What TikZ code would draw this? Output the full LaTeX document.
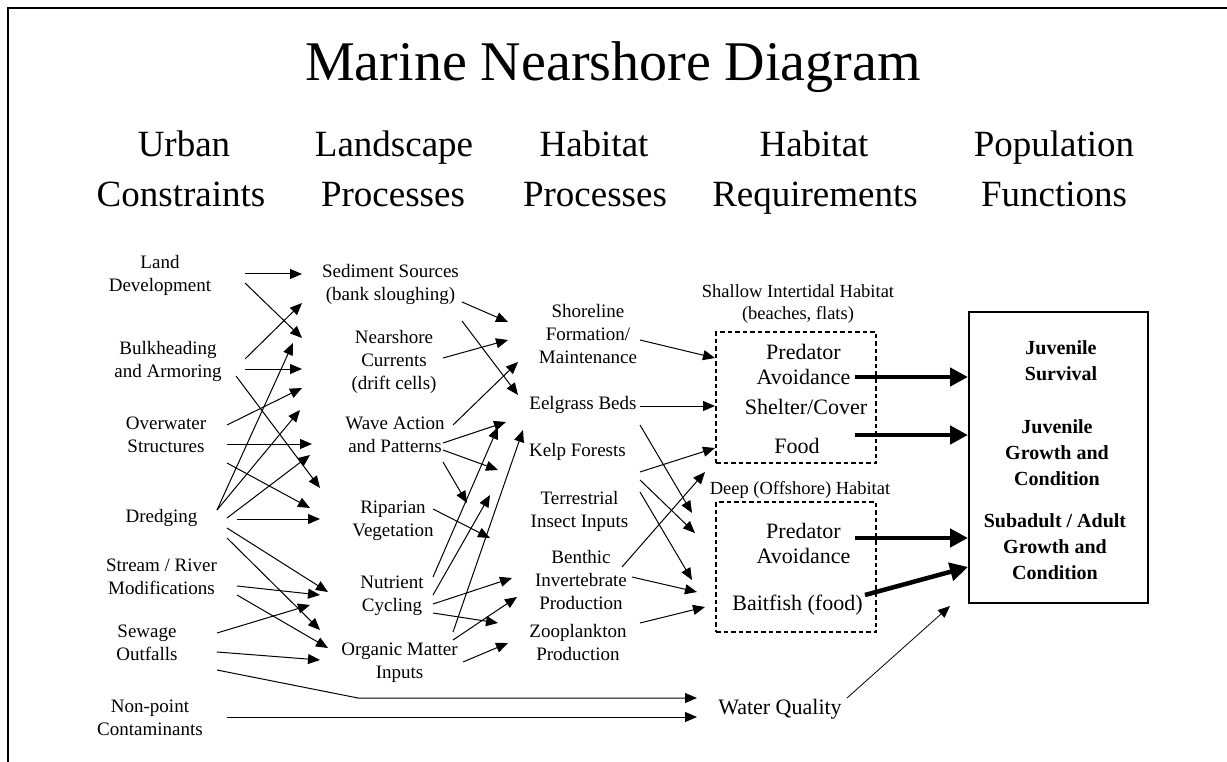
\documentclass[tikz,border=0pt]{standalone}
\usepackage{fontspec}
\setmainfont{Liberation Serif}
\usetikzlibrary{arrows.meta}
\begin{document}
\begin{tikzpicture}[x=1pt,y=-1pt,
  lbl/.style={inner sep=0pt, align=center, font=\fontsize{19}{23}\selectfont},
  req/.style={inner sep=0pt, align=center, font=\fontsize{22}{25}\selectfont},
  sublbl/.style={inner sep=0pt, align=center, font=\fontsize{18.5}{22}\selectfont},
  poplbl/.style={inner sep=0pt, align=center, font=\fontsize{20}{26}\selectfont\bfseries},
  hdr/.style={inner sep=0pt, anchor=base, font=\fontsize{37}{44}\selectfont},
  arr/.style={line width=1pt, -{Triangle[length=12pt,width=10pt]}},
  bigarr/.style={line width=4.5pt, -{Triangle[length=18pt,width=18pt]}},
  dbox/.style={draw, line width=1.6pt, dash pattern=on 4.5pt off 3pt, inner sep=0pt},
  sbox/.style={draw, line width=1.3pt, inner sep=0pt}]
\useasboundingbox (0,0) rectangle (1227,762);
% frame
\draw[line width=2.5pt] (8,762) -- (8,8) -- (1227,8);
% title and headers
\node[anchor=base, inner sep=0pt, font=\fontsize{56}{60}\selectfont] (title) at (613,81) {Marine Nearshore Diagram};
\node[hdr] (h1a) at (184,157) {Urban};
\node[hdr] (h1b) at (181,207) {Constraints};
\node[hdr] (h2a) at (394,157) {Landscape};
\node[hdr] (h2b) at (393,207) {Processes};
\node[hdr] (h3a) at (594,157) {Habitat};
\node[hdr] (h3b) at (595,207) {Processes};
\node[hdr] (h4a) at (814,157) {Habitat};
\node[hdr] (h4b) at (815,207) {Requirements};
\node[hdr] (h5a) at (1054,157) {Population};
\node[hdr] (h5b) at (1054,207) {Functions};
% urban constraints
\node[lbl] (land) at (160,275) {Land\\Development};
\node[lbl] (bulk) at (168,361) {Bulkheading\\and Armoring};
\node[lbl] (over) at (166,435) {Overwater\\Structures};
\node[lbl] (dredg) at (161.5,518) {Dredging};
\node[lbl] (stream) at (161.5,577) {Stream / River\\Modifications};
\node[lbl] (sewage) at (147,642.5) {Sewage\\Outfalls};
\node[lbl] (nonpt) at (150,718) {Non-point\\Contaminants};
% landscape processes
\node[lbl] (sed) at (390.5,284.5) {Sediment Sources\\(bank sloughing)};
\node[lbl] (near) at (394,362) {Nearshore\\Currents\\(drift cells)};
\node[lbl] (wave) at (395,435) {Wave Action\\and Patterns};
\node[lbl] (ripar) at (393,520.5) {Riparian\\Vegetation};
\node[lbl] (nutr) at (392,596) {Nutrient\\Cycling};
\node[lbl] (organic) at (399.5,662.5) {Organic Matter\\Inputs};
% habitat processes
\node[lbl] (shore) at (588,334) {Shoreline\\Formation/\\Maintenance};
\node[lbl] (eel) at (583,405) {Eelgrass Beds};
\node[lbl] (kelp) at (577.5,452) {Kelp Forests};
\node[lbl] (terr) at (579.5,511.5) {Terrestrial\\Insect Inputs};
\node[lbl] (benth) at (581,579.5) {Benthic\\Invertebrate\\Production};
\node[lbl] (zoo) at (578,642.5) {Zooplankton\\Production};
% habitat requirements
\node[sublbl] (shallow) at (798,304) {Shallow Intertidal Habitat\\(beaches, flats)};
\node[dbox, minimum width=160pt, minimum height=131pt] (box1) at (796,397.5) {};
\node[req] (pa1) at (803.5,364.5) {Predator\\Avoidance};
\node[req] (shelter) at (806,407) {Shelter/Cover};
\node[req] (food) at (797,446) {Food};
\node[sublbl] (deep) at (800,490) {Deep (Offshore) Habitat};
\node[dbox, minimum width=160pt, minimum height=130pt] (box2) at (796,567) {};
\node[req] (pa2) at (803.5,543.5) {Predator\\Avoidance};
\node[req] (bait) at (797.5,605) {Baitfish (food)};
\node[req] (wq) at (780,709) {Water Quality};
% population functions
\node[sbox, minimum width=179pt, minimum height=291pt] (popbox) at (1058.5,457.5) {};
\node[poplbl] (jsurv) at (1061,361) {Juvenile\\Survival};
\node[poplbl] (jgrow) at (1057,453) {Juvenile\\Growth and\\Condition};
\node[poplbl] (sgrow) at (1055,547) {Subadult / Adult\\Growth and\\Condition};
% urban -> landscape
\draw[arr] (245,274) -- (302,274);
\draw[arr] (245,283) -- (302,338);
\draw[arr] (245,359) -- (302,303);
\draw[arr] (245,369) -- (302,369);
\draw[arr] (236,376) -- (320,488);
\draw[arr] (227,425) -- (302,388);
\draw[arr] (227,444) -- (312,444);
\draw[arr] (227,463) -- (310,508);
\draw[arr] (217,510) -- (293,343);
\draw[arr] (217,510) -- (300,410);
\draw[arr] (227,518) -- (310,455);
\draw[arr] (237,519) -- (320,519);
\draw[arr] (227,528) -- (328,592);
\draw[arr] (227,538) -- (320,630);
\draw[arr] (237,586) -- (320,595);
\draw[arr] (237,595) -- (328,648);
\draw[arr] (217,633) -- (310,605);
\draw[arr] (217,652) -- (320,660);
\draw[arr] (217,670) -- (358,698) -- (697,698);
\draw[arr] (227,717) -- (697,717);
% landscape -> habitat processes
\draw[arr] (462,302) -- (508,322);
\draw[arr] (462,321) -- (518,395);
\draw[arr] (443,358) -- (508,340);
\draw[arr] (453,425) -- (518,362);
\draw[arr] (443,443) -- (506,422);
\draw[arr] (443,450) -- (498,470);
\draw[arr] (443,462) -- (467,503);
\draw[arr] (433,509) -- (490,538);
\draw[arr] (433,577) -- (498,427);
\draw[arr] (433,595) -- (490,495);
\draw[arr] (433,604) -- (512,578);
\draw[arr] (433,613) -- (498,623);
\draw[arr] (453,632) -- (523,430);
\draw[arr] (453,640) -- (517,597);
\draw[arr] (463,662) -- (508,643);
% habitat processes -> requirements
\draw[arr] (640,340) -- (715,358);
\draw[arr] (640,406) -- (715,406);
\draw[arr] (640,425) -- (692,513);
\draw[arr] (640,472) -- (715,448);
\draw[arr] (640,480) -- (695,533);
\draw[arr] (640,492) -- (692,580);
\draw[arr] (622,567) -- (705,472);
\draw[arr] (632,577) -- (697,592);
\draw[arr] (640,623) -- (705,607);
% requirements -> population
\draw[bigarr] (855,377) -- (968,377);
\draw[bigarr] (855,435) -- (968,435);
\draw[bigarr] (855,538) -- (968,538);
\draw[bigarr] (865,595) -- (968,567);
\draw[line width=0.8pt, -{Triangle[length=12pt,width=10pt]}] (847,698) -- (950,606);
\end{tikzpicture}
\end{document}
